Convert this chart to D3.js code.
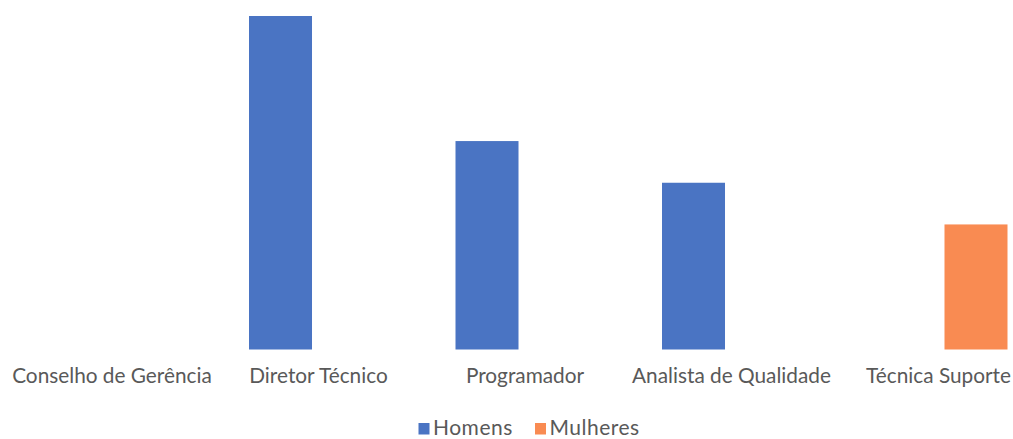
<!DOCTYPE html>
<html>
<head>
<meta charset="utf-8">
<script src="https://cdn.jsdelivr.net/npm/d3@7"></script>
<style>
  html, body { margin: 0; padding: 0; background: #ffffff; }
  svg { display: block; }
  text { font-family: Lato, "Open Sans", "DejaVu Sans", sans-serif; fill: #595959; }
</style>
</head>
<body>
<svg id="chart" width="1013" height="439"></svg>
<script>
// Staff by role, split into men and women
const categories = ["Conselho de Gerência", "Diretor Técnico", "Programador", "Analista de Qualidade", "Técnica Suporte"];
const seriesNames = ["Homens", "Mulheres"];
const homens   = [0, 8, 5, 4, 0];
const mulheres = [0, 0, 0, 0, 3];
const seriesColors = ["#4a74c3", "#f98b52"];

const svg = d3.select("#chart");
const W = 1013, H = 439;

const values = [homens, mulheres];
const rows = categories.map((c, i) => ({
  cat: c,
  vals: seriesNames.map((s, j) => ({ series: s, idx: j, value: values[j][i] }))
}));

// Category bands (the plot runs slightly past the right edge)
const x0 = d3.scaleBand()
  .domain(categories)
  .range([8.75, 1041.25])
  .padding(0);

const x1 = d3.scaleBand()
  .domain(seriesNames)
  .range([x0.bandwidth() / 2 - 69.5, x0.bandwidth() / 2 + 69.5])
  .paddingInner(0.171)
  .paddingOuter(0);

const y = d3.scaleLinear()
  .domain([0, 8])
  .range([349.5, 16]);

// Bars
const groups = svg.append("g").attr("class", "bars")
  .selectAll("g")
  .data(rows)
  .join("g")
  .attr("transform", d => `translate(${x0(d.cat)},0)`);

groups.selectAll("rect")
  .data(d => d.vals.filter(v => v.value > 0))
  .join("rect")
  .attr("x", d => x1(d.series))
  .attr("width", x1.bandwidth())
  .attr("y", d => y(d.value))
  .attr("height", d => y(0) - y(d.value))
  .attr("fill", d => seriesColors[d.idx]);

// Category axis labels (no axis line or ticks)
const xAxis = d3.axisBottom(x0).tickSize(0).tickPadding(0);
const axisG = svg.append("g")
  .attr("transform", `translate(0,${y(0)})`)
  .call(xAxis);
axisG.select(".domain").remove();
axisG.selectAll(".tick text")
  .attr("y", 0)
  .attr("dy", 0)
  .attr("transform", "translate(0,33)")
  .style("font-size", "20.8px")
  .style("font-family", "Lato, 'Open Sans', sans-serif")
  .attr("fill", "#4f4f4f");
// keep the last label inside the canvas
axisG.selectAll(".tick").filter(d => d === categories[categories.length - 1])
  .select("text")
  .attr("text-anchor", "end")
  .attr("x", W - 2 - x0(categories[categories.length - 1]) - x0.bandwidth() / 2);

// Legend
const legendX = [418.5, 535];
const legend = svg.append("g").attr("class", "legend");
const items = legend.selectAll("g")
  .data(seriesNames)
  .join("g")
  .attr("transform", (d, i) => `translate(${legendX[i]},0)`);
items.append("rect")
  .attr("x", 0)
  .attr("y", 423)
  .attr("width", 11)
  .attr("height", 11.5)
  .attr("fill", (d, i) => seriesColors[i]);
items.append("text")
  .attr("x", 14.5)
  .attr("y", 434.5)
  .style("font-size", "21px")
  .style("letter-spacing", "0.5px")
  .attr("fill", "#636363")
  .text(d => d);
</script>
</body>
</html>
